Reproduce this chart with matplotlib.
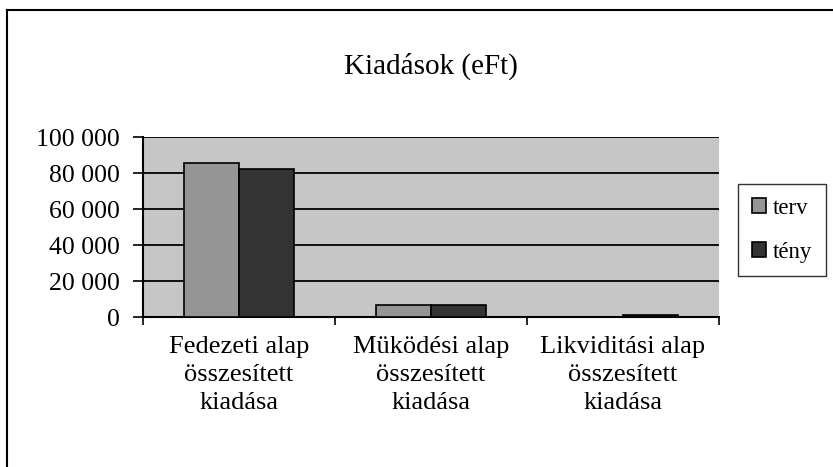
import matplotlib
matplotlib.use("Agg")
import matplotlib.pyplot as plt
import numpy as np

# ── data ───────────────────────────────────────────────────────────────────────
categories = [
    "Fedezeti alap\nösszesített\nkiadása",
    "Müködési alap\nösszesített\nkiadása",
    "Likviditási alap\nösszesített\nkiadása",
]
terv = [85300, 6900, 0]
teny = [82000, 6800, 900]
series_names = ["terv", "tény"]
yticks = [0, 20000, 40000, 60000, 80000, 100000]
ytick_labels = ["0", "20 000", "40 000", "60 000", "80 000", "100 000"]

W, H = 833, 467
plt.rcParams["font.family"] = ["Liberation Serif", "DejaVu Serif"]

fig = plt.figure(figsize=(W / 100, H / 100), dpi=100)
ax = fig.add_axes([143 / W, 1 - 317 / H, (719 - 143) / W, (317 - 137) / H])

ax.set_facecolor("#c6c6c6")
x = np.arange(len(categories))
w = 1 / 3.5  # Excel gap width 150%
b1 = ax.bar(x - w / 2, terv, width=w, color="#959595", edgecolor="black",
            linewidth=1.2, label=series_names[0], zorder=3)
b2 = ax.bar(x + w / 2, teny, width=w, color="#333333", edgecolor="black",
            linewidth=1.2, label=series_names[1], zorder=3)

ax.set_xlim(-0.5, len(categories) - 0.5)
ax.set_ylim(0, 100000)
ax.set_yticks(yticks)
ax.set_yticklabels(ytick_labels, fontsize=18.5)
ax.yaxis.grid(True, color="black", linewidth=1.3, zorder=1)
ax.set_axisbelow(True)

# category labels at centres, tick marks at boundaries
ax.set_xticks(x)
ax.set_xticklabels(categories, fontsize=19, linespacing=1.35)
ax.tick_params(axis="x", length=0, pad=14)
ax.set_xticks(np.arange(len(categories) + 1) - 0.5, minor=True)
ax.tick_params(axis="x", which="minor", length=6, width=1.2, direction="out")
ax.tick_params(axis="y", length=7, width=1.2, direction="out", pad=10)

for side in ["top", "right"]:
    ax.spines[side].set_visible(False)
ax.spines["left"].set_linewidth(1.5)
ax.spines["bottom"].set_linewidth(1.5)

fig.text((143 + 719) / 2 / W, 1 - 66 / H, "Kiadások (eFt)", ha="center",
         va="center", fontsize=21)

leg = fig.legend(handles=[b1, b2], loc="upper left",
                 bbox_to_anchor=(738 / W, 1 - 184 / H), fontsize=16.5,
                 frameon=True, fancybox=False, edgecolor="black",
                 handlelength=0.6, handleheight=0.6, handletextpad=0.3,
                 labelspacing=1.0, borderpad=0.6, borderaxespad=0)
leg.get_frame().set_linewidth(1.0)

# outer chart frame (cut off at the right and bottom of the scan)
fig.add_artist(plt.Line2D([7 / W, 7 / W], [0, 1 - 10 / H], color="black",
                          linewidth=1.5, transform=fig.transFigure))
fig.add_artist(plt.Line2D([7 / W, 1], [1 - 10 / H, 1 - 10 / H], color="black",
                          linewidth=1.5, transform=fig.transFigure))

fig.savefig("out.png", dpi=100)
